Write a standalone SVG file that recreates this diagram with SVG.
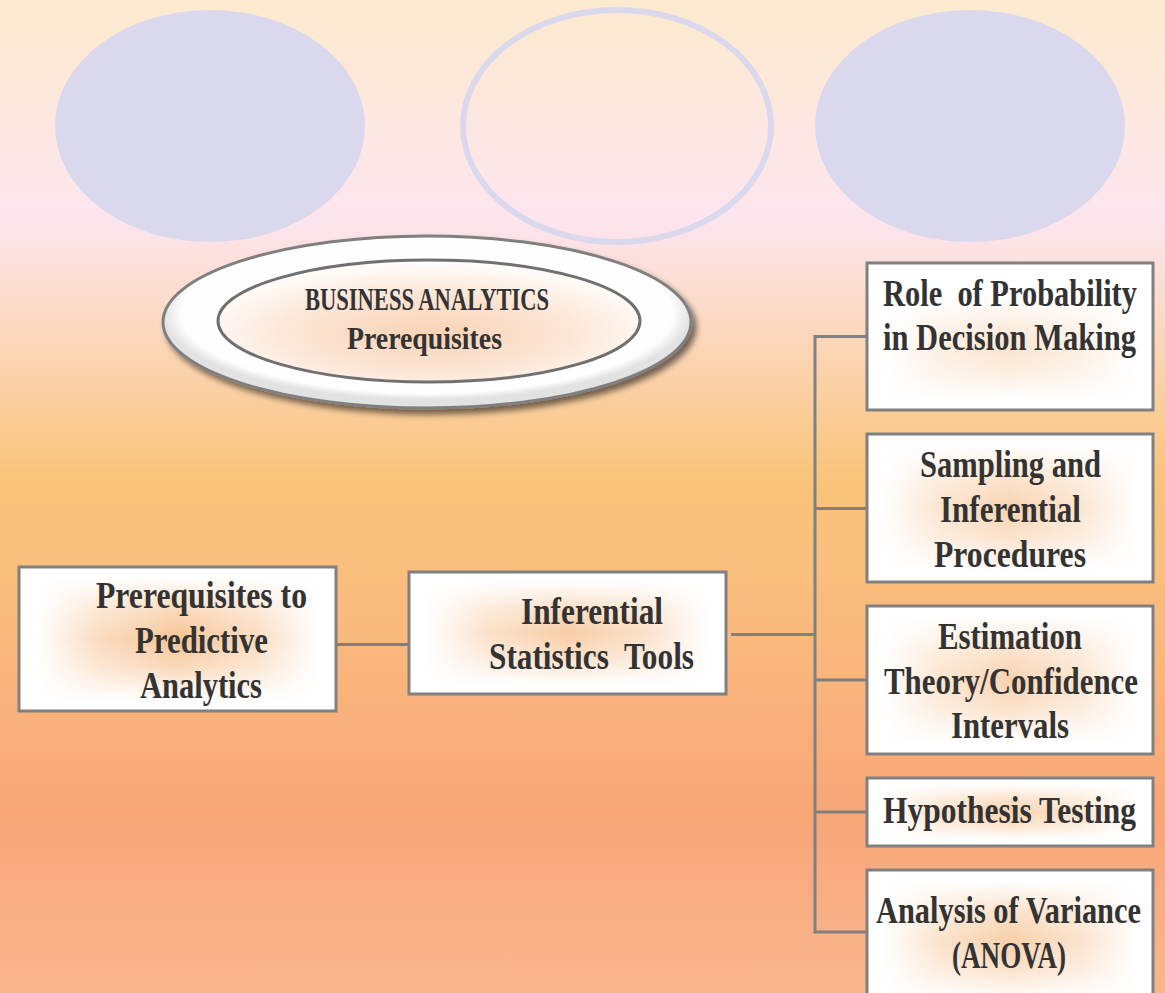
<svg xmlns="http://www.w3.org/2000/svg" width="1165" height="993" viewBox="0 0 1165 993">
  <defs>
    <linearGradient id="bg" x1="0" y1="0" x2="0" y2="1">
      <stop offset="0" stop-color="#FDEACE"/>
      <stop offset="0.22" stop-color="#FDE5EF"/>
      <stop offset="0.30" stop-color="#FCDCCD"/>
      <stop offset="0.48" stop-color="#F9C47B"/>
      <stop offset="0.62" stop-color="#FABB7E"/>
      <stop offset="0.82" stop-color="#F8A678"/>
      <stop offset="1" stop-color="#F9B68E"/>
    </linearGradient>
    <!-- box shading: horizontal band masked by a vertical band -->
    <linearGradient id="gh" x1="0" y1="0" x2="1" y2="0">
      <stop offset="0" stop-color="#F6BE8A" stop-opacity="0"/>
      <stop offset="0.05" stop-color="#F6BE8A" stop-opacity="0"/>
      <stop offset="0.25" stop-color="#F6BE8A" stop-opacity="0.55"/>
      <stop offset="0.5" stop-color="#F6BE8A" stop-opacity="0.9"/>
      <stop offset="0.75" stop-color="#F6BE8A" stop-opacity="0.55"/>
      <stop offset="0.95" stop-color="#F6BE8A" stop-opacity="0"/>
      <stop offset="1" stop-color="#F6BE8A" stop-opacity="0"/>
    </linearGradient>
    <linearGradient id="gv" x1="0" y1="0" x2="0" y2="1">
      <stop offset="0" stop-color="#000"/>
      <stop offset="0.06" stop-color="#000"/>
      <stop offset="0.3" stop-color="#aaa"/>
      <stop offset="0.5" stop-color="#fff"/>
      <stop offset="0.7" stop-color="#aaa"/>
      <stop offset="0.94" stop-color="#000"/>
      <stop offset="1" stop-color="#000"/>
    </linearGradient>
    <mask id="mv" maskContentUnits="objectBoundingBox">
      <rect x="0" y="0" width="1" height="1" fill="url(#gv)"/>
    </mask>
    <radialGradient id="outerFill" cx="0.5" cy="0.45" r="0.5">
      <stop offset="0" stop-color="#FFFFFF"/>
      <stop offset="0.93" stop-color="#FEFEFE"/>
      <stop offset="1" stop-color="#E2E2E2"/>
    </radialGradient>
    <radialGradient id="innerFill" cx="0.5" cy="0.6" r="0.55">
      <stop offset="0" stop-color="#FAD3B4"/>
      <stop offset="0.6" stop-color="#FCE6D6"/>
      <stop offset="1" stop-color="#FFFBF8"/>
    </radialGradient>
    <filter id="shadow" x="-10%" y="-20%" width="120%" height="150%">
      <feGaussianBlur in="SourceAlpha" stdDeviation="3"/>
      <feOffset dx="4" dy="5" result="b"/>
      <feComponentTransfer><feFuncA type="linear" slope="0.55"/></feComponentTransfer>
      <feMerge><feMergeNode/><feMergeNode in="SourceGraphic"/></feMerge>
    </filter>
  </defs>
  <style>
    .oval { fill: #DAD8EC; }
    .box { fill: #FFFFFF; stroke: #808080; stroke-width: 3; }
    .shade { fill: url(#gh); }
    .t { font-family: "Liberation Serif", "DejaVu Serif", serif; font-weight: bold; font-size: 37px; fill: #333333; white-space: pre; }
    .e { font-size: 32px; }
    .wire { stroke: #808080; stroke-width: 3; fill: none; }
  </style>

  <rect x="0" y="0" width="1165" height="993" fill="url(#bg)"/>

  <!-- decorative ovals -->
  <g id="ovals">
    <ellipse class="oval" cx="210" cy="126" rx="155" ry="116"/>
    <ellipse cx="617" cy="126" rx="154" ry="116" fill="none" stroke="#DAD8EC" stroke-width="6"/>
    <ellipse class="oval" cx="970" cy="126" rx="155" ry="116"/>
  </g>

  <!-- title; labels are set in a horizontally condensed frame (scale 0.82) -->
  <g id="title">
    <ellipse cx="427" cy="322" rx="264" ry="86" fill="url(#outerFill)" stroke="#7F7F7F" stroke-width="3" filter="url(#shadow)"/>
    <ellipse cx="429" cy="321" rx="211" ry="61" fill="url(#innerFill)" stroke="#707070" stroke-width="3"/>
    <g transform="scale(0.82,1)">
      <text class="t e" x="371.95" y="310" textLength="297.56" lengthAdjust="spacingAndGlyphs">BUSINESS ANALYTICS</text>
      <text class="t e" x="423.17" y="349" textLength="189.02" lengthAdjust="spacingAndGlyphs">Prerequisites</text>
    </g>
  </g>

  <!-- connectors -->
  <g id="connectors">
    <line class="wire" x1="335" y1="644.5" x2="413" y2="644.5" stroke-width="4"/>
    <line class="wire" x1="731" y1="634.5" x2="815" y2="634.5"/>
    <line class="wire" x1="815" y1="335" x2="815" y2="933.5"/>
    <line class="wire" x1="815" y1="336.5" x2="867" y2="336.5"/>
    <line class="wire" x1="815" y1="508.5" x2="867" y2="508.5"/>
    <line class="wire" x1="815" y1="680" x2="867" y2="680"/>
    <line class="wire" x1="815" y1="812" x2="867" y2="812"/>
    <line class="wire" x1="815" y1="932" x2="867" y2="932"/>
  </g>

  <g id="predictive">
    <rect class="box" x="19" y="567" width="317" height="144"/>
    <rect class="shade" x="21" y="569" width="313" height="140" mask="url(#mv)"/>
    <g transform="scale(0.82,1)">
      <text class="t" x="117.07" y="608" textLength="257.32" lengthAdjust="spacingAndGlyphs">Prerequisites to</text>
      <text class="t" x="164.63" y="653" textLength="162.20" lengthAdjust="spacingAndGlyphs">Predictive</text>
      <text class="t" x="170.73" y="698" textLength="148.78" lengthAdjust="spacingAndGlyphs">Analytics</text>
    </g>
  </g>

  <g id="inferential">
    <rect class="box" x="409" y="572" width="317" height="122"/>
    <rect class="shade" x="411" y="574" width="313" height="118" mask="url(#mv)" opacity="0.85"/>
    <g transform="scale(0.82,1)">
      <text class="t" x="635.37" y="624" textLength="173.17" lengthAdjust="spacingAndGlyphs">Inferential</text>
      <text class="t" x="596.34" y="669" textLength="250" lengthAdjust="spacingAndGlyphs">Statistics  Tools</text>
    </g>
  </g>

  <g id="probability">
    <rect class="box" x="867" y="263" width="286" height="147"/>
    <rect class="shade" x="869" y="290" width="282" height="118" mask="url(#mv)" opacity="0.45"/>
    <g transform="scale(0.82,1)">
      <text class="t" x="1076.83" y="306" textLength="309.76" lengthAdjust="spacingAndGlyphs">Role  of Probability</text>
      <text class="t" x="1076.83" y="350" textLength="308.54" lengthAdjust="spacingAndGlyphs">in Decision Making</text>
    </g>
  </g>

  <g id="sampling">
    <rect class="box" x="867" y="434" width="286" height="148"/>
    <rect class="shade" x="869" y="436" width="282" height="144" mask="url(#mv)" opacity="0.75"/>
    <g transform="scale(0.82,1)">
      <text class="t" x="1121.95" y="477" textLength="220.73" lengthAdjust="spacingAndGlyphs">Sampling and</text>
      <text class="t" x="1146.34" y="522" textLength="171.95" lengthAdjust="spacingAndGlyphs">Inferential</text>
      <text class="t" x="1139.02" y="567" textLength="185.37" lengthAdjust="spacingAndGlyphs">Procedures</text>
    </g>
  </g>

  <g id="estimation">
    <rect class="box" x="867" y="606" width="286" height="148"/>
    <rect class="shade" x="869" y="608" width="282" height="144" mask="url(#mv)" opacity="0.75"/>
    <g transform="scale(0.82,1)">
      <text class="t" x="1143.90" y="649" textLength="175.61" lengthAdjust="spacingAndGlyphs">Estimation</text>
      <text class="t" x="1078.05" y="694" textLength="309.76" lengthAdjust="spacingAndGlyphs">Theory/Confidence</text>
      <text class="t" x="1159.76" y="738" textLength="143.90" lengthAdjust="spacingAndGlyphs">Intervals</text>
    </g>
  </g>

  <g id="hypothesis">
    <rect class="box" x="867" y="778" width="286" height="68"/>
    <rect class="shade" x="869" y="780" width="282" height="64" mask="url(#mv)" opacity="0.75"/>
    <g transform="scale(0.82,1)">
      <text class="t" x="1076.83" y="823" textLength="308.54" lengthAdjust="spacingAndGlyphs">Hypothesis Testing</text>
    </g>
  </g>

  <g id="anova">
    <rect class="box" x="867" y="870" width="286" height="140"/>
    <rect class="shade" x="869" y="872" width="282" height="136" mask="url(#mv)" opacity="0.8"/>
    <g transform="scale(0.82,1)">
      <text class="t" x="1068.29" y="923" textLength="323.17" lengthAdjust="spacingAndGlyphs">Analysis of Variance</text>
      <text class="t" x="1160.98" y="968" textLength="139.02" lengthAdjust="spacingAndGlyphs">(ANOVA)</text>
    </g>
  </g>
</svg>
